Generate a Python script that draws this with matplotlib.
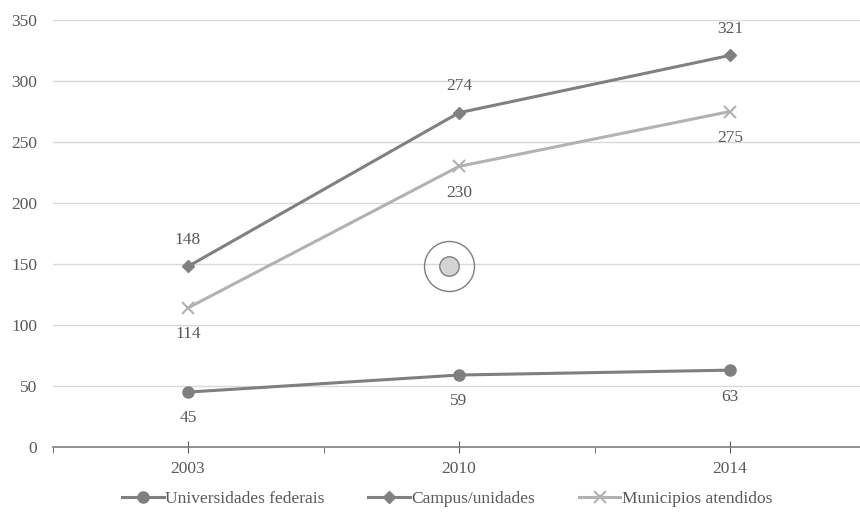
import matplotlib.pyplot as plt
from matplotlib.ticker import FixedLocator, NullFormatter

plt.rcParams['font.family'] = ['Liberation Serif', 'DejaVu Serif']

years = ["2003", "2010", "2014"]
universidades = [45, 59, 63]
campus = [148, 274, 321]
municipios = [114, 230, 275]

# categories sit at odd positions, boundaries at even ones
xpos = [1, 3, 5]
text_col = "#595959"
fs = 12.5

fig = plt.figure(figsize=(8.6, 5.12), dpi=100)
ax = fig.add_axes([52.5 / 860, 65 / 512, 813 / 860, 427 / 512])

ax.plot(xpos, universidades, color="#7f7f7f", lw=2.2, marker="o", ms=8,
        label="Universidades federais", zorder=3)
ax.plot(xpos, campus, color="#808080", lw=2.2, marker="D", ms=6.5,
        label="Campus/unidades", zorder=3)
ax.plot(xpos, municipios, color="#b2b2b2", lw=2.2, marker="x", ms=8, mew=1.5,
        label="Municipios atendidos", zorder=3)

# value labels
for x, v in zip(xpos, universidades):
    ax.annotate(str(v), (x, v), xytext=(0, -19), textcoords="offset points",
                ha="center", va="center", fontsize=fs, color=text_col)
for x, v in zip(xpos, campus):
    ax.annotate(str(v), (x, v), xytext=(0, 19), textcoords="offset points",
                ha="center", va="center", fontsize=fs, color=text_col)
for x, v in zip(xpos, municipios):
    ax.annotate(str(v), (x, v), xytext=(0, -19), textcoords="offset points",
                ha="center", va="center", fontsize=fs, color=text_col)

# target-like marker in the middle of the plot
ax.plot([0.488], [0.424], transform=ax.transAxes, marker="o", ms=36,
        mfc="none", mec="#7f7f7f", mew=1.0, zorder=4)
ax.plot([0.488], [0.424], transform=ax.transAxes, marker="o", ms=14,
        mfc="#d4d4d4", mec="#7f7f7f", mew=1.0, zorder=4)

ax.set_xlim(0, 6)
ax.set_ylim(0, 350)
ax.set_yticks(range(0, 351, 50))
ax.yaxis.grid(True, color="#d9d9d9", lw=1)
ax.set_axisbelow(True)

ax.set_xticks(xpos)
ax.set_xticklabels(years)
ax.xaxis.set_minor_locator(FixedLocator([0, 2, 4, 6]))
ax.xaxis.set_minor_formatter(NullFormatter())
ax.tick_params(axis="x", which="major", direction="inout", length=8,
               color="#595959", labelsize=fs, labelcolor=text_col, pad=6)
ax.tick_params(axis="x", which="minor", direction="out", length=4,
               color="#595959")
ax.tick_params(axis="y", length=0, labelsize=fs, labelcolor=text_col, pad=11)

for side in ["top", "right", "left"]:
    ax.spines[side].set_visible(False)
ax.spines["bottom"].set_color("#7f7f7f")
ax.spines["bottom"].set_linewidth(1.2)

fig.legend(loc="lower center", ncol=3, frameon=False, fontsize=fs,
           bbox_to_anchor=(0.52, -0.02), handlelength=2.4, handletextpad=0.1,
           columnspacing=2.5, labelcolor=text_col)

fig.savefig("out.png", dpi=100)
